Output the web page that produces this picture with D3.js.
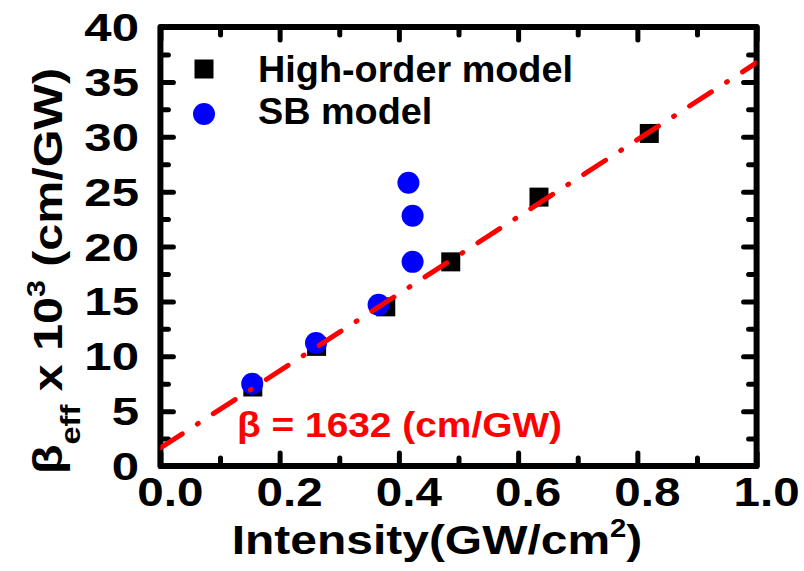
<!DOCTYPE html>
<html>
<head>
<meta charset="utf-8">
<script src="https://cdn.jsdelivr.net/npm/d3@7"></script>
<style>
    body { margin: 0; background: #fff; }
    text { font-family: 'Liberation Sans', Arial, sans-serif; font-weight: bold; }
</style>
</head>
<body>
<div id="chart"></div>
<script>
// DATA

const hoX = [0.155, 0.262, 0.378, 0.487, 0.635, 0.820];
const hoY = [7.2, 10.9, 14.5, 18.6, 24.5, 30.3];

const sbX = [0.154, 0.261, 0.366, 0.416, 0.423, 0.423];
const sbY = [7.5, 11.2, 14.7, 25.8, 22.8, 18.6];

const fitX = [0, 1];
const fitY = [1.65, 36.75];

const xTicks = [0, 0.2, 0.4, 0.6, 0.8, 1.0];
const xMinor = [0.1, 0.3, 0.5, 0.7, 0.9];
const yTicks = [0, 5, 10, 15, 20, 25, 30, 35, 40];
const yMinor = [2.5, 7.5, 12.5, 17.5, 22.5, 27.5, 32.5, 37.5];

const legendLabels = ['High-order model', 'SB model'];

// CONFIG

const width = 804,
    height = 571;

const plot = { left: 160.4, right: 756.6, top: 27, bottom: 466 };

const svg = d3.select('#chart')
    .append('svg')
    .attr('width', width)
    .attr('height', height);

const x_scale = d3.scaleLinear().domain([0, 1]).range([plot.left, plot.right]);
const y_scale = d3.scaleLinear().domain([0, 40]).range([plot.bottom, plot.top]);

// stretched text helper
const label = (g, x, y, sx, anchor, size, fill) =>
    g.append('text')
        .attr('transform', `translate(${x},${y}) scale(${sx},1)`)
        .attr('text-anchor', anchor)
        .style('font-size', size + 'px')
        .style('fill', fill || '#000');

// AXES (ticks inward on all four sides)

const tickStyle = (g) => {
    g.select('.domain').remove();
    g.selectAll('line').attr('stroke', '#000').attr('stroke-width', 5).attr('stroke-linecap', 'round');
};

const axes = [
    [d3.axisBottom, `translate(0,${plot.bottom})`, x_scale, xTicks, xMinor],
    [d3.axisTop, `translate(0,${plot.top})`, x_scale, xTicks, xMinor],
    [d3.axisLeft, `translate(${plot.left},0)`, y_scale, yTicks, yMinor],
    [d3.axisRight, `translate(${plot.right},0)`, y_scale, yTicks, yMinor]
];

axes.forEach(([fn, tr, sc, major, minor]) => {
    svg.append('g').attr('transform', tr)
        .call(fn(sc).tickValues(major).tickSize(-13).tickFormat(''))
        .call(tickStyle);
    svg.append('g').attr('transform', tr)
        .call(fn(sc).tickValues(minor).tickSize(-8).tickFormat(''))
        .call(tickStyle);
});

// tick labels
xTicks.forEach((v) => {
    label(svg, x_scale(v) + 10, 506, 1.16, 'middle', 41).text(d3.format('.1f')(v));
});
yTicks.forEach((v) => {
    label(svg, 139, y_scale(v) + 14, 1.26, 'end', 39).text(v);
});

// frame
svg.append('rect')
    .attr('x', plot.left)
    .attr('y', plot.top)
    .attr('width', plot.right - plot.left)
    .attr('height', plot.bottom - plot.top)
    .attr('fill', 'none')
    .attr('stroke', '#000')
    .attr('stroke-width', 6)
    .attr('stroke-linejoin', 'round');

// axis titles
const xt = label(svg, 437, 554, 1.17, 'middle', 41);
xt.append('tspan').text('Intensity(GW/cm');
xt.append('tspan').attr('dy', -17).style('font-size', '25px').text('2');
xt.append('tspan').attr('dy', 17).text(')');

const yt = svg.append('text')
    .attr('transform', 'translate(62,271) rotate(-90) scale(1.21,1)')
    .attr('text-anchor', 'middle')
    .style('font-size', '40px');
yt.append('tspan').text('\u03B2');
yt.append('tspan').attr('dy', 18).style('font-size', '27px').text('eff');
yt.append('tspan').attr('dy', -18).text(' x 10');
yt.append('tspan').attr('dy', -17).style('font-size', '25px').text('3');
yt.append('tspan').attr('dy', 17).text(' (cm/GW)');

// MARKS

svg.append('clipPath').attr('id', 'clip')
    .append('rect')
    .attr('x', plot.left).attr('y', plot.top)
    .attr('width', plot.right - plot.left).attr('height', plot.bottom - plot.top);

const sq = 19;

svg.append('g')
    .selectAll('rect')
    .data(hoX)
    .enter()
    .append('rect')
    .attr('x', (d) => x_scale(d) - sq / 2)
    .attr('y', (d, i) => y_scale(hoY[i]) - sq / 2)
    .attr('width', sq)
    .attr('height', sq)
    .attr('fill', '#000');

svg.append('g')
    .selectAll('circle')
    .data(sbX)
    .enter()
    .append('circle')
    .attr('cx', (d) => x_scale(d))
    .attr('cy', (d, i) => y_scale(sbY[i]))
    .attr('r', 11)
    .attr('fill', '#0000ff');

const line = d3.line()
    .x((d) => x_scale(d))
    .y((d, i) => y_scale(fitY[i]));

svg.append('path')
    .datum(fitX)
    .attr('d', line)
    .attr('clip-path', 'url(#clip)')
    .attr('fill', 'none')
    .attr('stroke', '#ff0000')
    .attr('stroke-width', 5)
    .attr('stroke-linecap', 'round')
    .attr('stroke-dasharray', '26,18,1,18');

// annotation
label(svg, 237, 437, 1.08, 'start', 36, '#ff0000').text('\u03B2 = 1632 (cm/GW)');

// LEGEND

const legend = svg.append('g').attr('id', 'legend');

legend.append('rect')
    .attr('x', 204 - sq / 2)
    .attr('y', 69 - sq / 2)
    .attr('width', sq)
    .attr('height', sq)
    .attr('fill', '#000');

legend.append('circle')
    .attr('cx', 204)
    .attr('cy', 114)
    .attr('r', 11)
    .attr('fill', '#0000ff');

legendLabels.forEach((t, i) => {
    label(legend, 258, 82 + i * 42, 1.05, 'start', 36).text(t);
});
</script>
</body>
</html>
